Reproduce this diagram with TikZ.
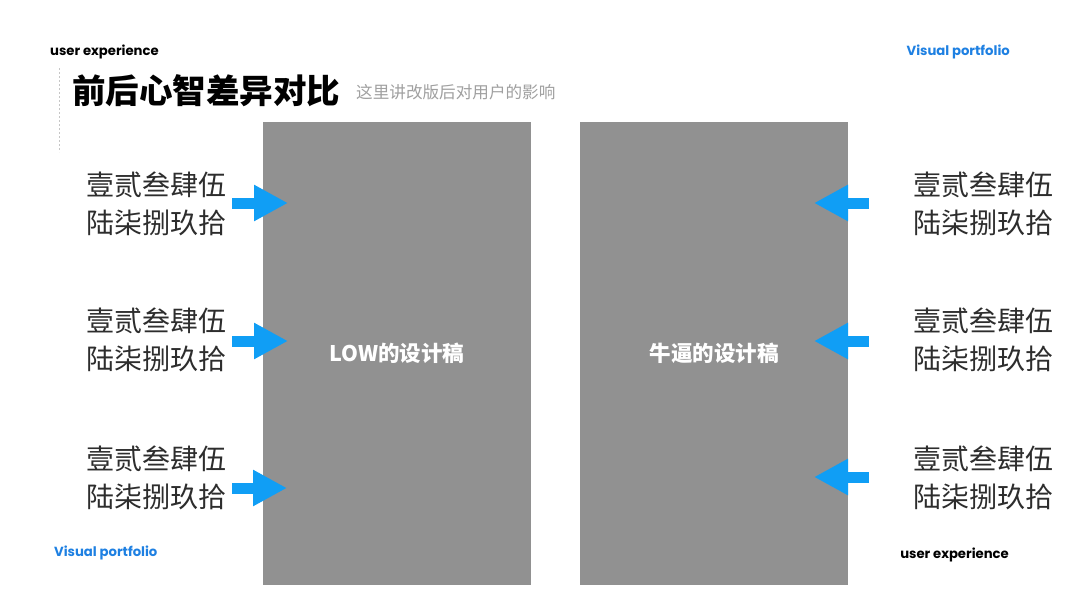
\documentclass[tikz,border=0pt]{standalone}
\usepackage{fontspec}
\usepackage{xcolor}
\usetikzlibrary{arrows.meta}
\newfontfamily\cjk{Noto Sans CJK SC}
\newfontfamily\latinfont{Poppins}
\definecolor{boxgray}{RGB}{145,145,145}
\definecolor{arrowblue}{RGB}{16,158,245}
\definecolor{tagblue}{RGB}{30,128,226}
\definecolor{textgray}{RGB}{45,45,45}
\definecolor{subgray}{RGB}{160,160,160}

\begin{document}
\begin{tikzpicture}[x=1pt,y=-1pt,
  mockup/.style={fill=boxgray,minimum width=268pt,minimum height=463pt,inner sep=0pt,
    text=white,font=\cjk\bfseries\fontsize{21.5}{24}\selectfont},
  numtext/.style={inner sep=0pt,align=left,text=textgray,font=\cjk\fontsize{28}{38}\selectfont},
  flow/.style={draw=arrowblue,line width=11pt,-{Triangle[length=34pt,width=34pt,color=arrowblue]}},
  tag/.style={inner sep=0pt,font=\latinfont\bfseries\fontsize{13.2}{15}\selectfont}]
  \useasboundingbox[fill=white] (0,0) rectangle (1080,608);

  % corner tags
  \node[tag,anchor=west] (tagtl) at (50,51.5) {user experience};
  \node[tag,anchor=east,text=tagblue] (tagtr) at (1010,51.5) {Visual portfolio};
  \node[tag,anchor=west,text=tagblue] (tagbl) at (54,553) {Visual portfolio};
  \node[tag,anchor=east] (tagbr) at (1009,554.5) {user experience};

  % heading
  \draw[subgray!60,dashed,dash pattern=on 2pt off 2pt] (59,68) -- (59,152);
  \node[anchor=west,inner sep=0pt,font=\cjk\bfseries\fontsize{33.5}{38}\selectfont] (title) at (72,91) {前后心智差异对比};
  \node[anchor=west,inner sep=0pt,text=subgray,font=\cjk\fontsize{16.6}{20}\selectfont] (subtitle) at (356,92) {这里讲改版后对用户的影响};

  % the two drafts
  \node[mockup] (lowbox) at (397,353.5) {LOW的设计稿};
  \node[mockup] (goodbox) at (714,353.5) {牛逼的设计稿};

  % left side
  \node[numtext] (left1) at (156,203.5) {壹贰叁肆伍\\陆柒捌玖拾};
  \node[numtext] (left2) at (156,339.5) {壹贰叁肆伍\\陆柒捌玖拾};
  \node[numtext] (left3) at (156,477.5) {壹贰叁肆伍\\陆柒捌玖拾};
  \coordinate (l1) at (288,203);
  \coordinate (l2) at (288,341);
  \coordinate (l3) at (287,488);
  \foreach \i in {1,2,3}
    \draw[flow,shorten <=6pt] (left\i.east |- l\i) -- (l\i);

  % right side
  \node[numtext] (right1) at (983,203.5) {壹贰叁肆伍\\陆柒捌玖拾};
  \node[numtext] (right2) at (983,339.5) {壹贰叁肆伍\\陆柒捌玖拾};
  \node[numtext] (right3) at (983,477.5) {壹贰叁肆伍\\陆柒捌玖拾};
  \coordinate (r1) at (814,203);
  \coordinate (r2) at (814,341);
  \coordinate (r3) at (814,477);
  \foreach \i in {1,2,3}
    \draw[flow,shorten <=44pt] (right\i.west |- r\i) -- (r\i);
\end{tikzpicture}
\end{document}
